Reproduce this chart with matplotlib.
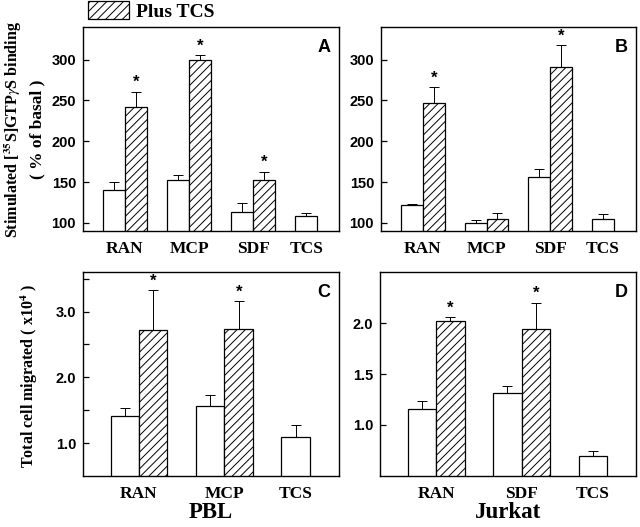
import matplotlib
matplotlib.use("Agg")
import matplotlib.pyplot as plt
import numpy as np
from matplotlib.patches import Patch

# ---- data ----
cats_A = ["RAN", "MCP", "SDF", "TCS"]
open_A = [139.7, 152.6, 113.1, 107.8]
open_err_A = [9.8, 6.6, 11.0, 4.1]
hatch_A = [242.0, 300.0, 151.9, None]
hatch_err_A = [18.9, 5.3, 11.0, None]
star_A = [True, True, True, False]

cats_B = ["RAN", "MCP", "SDF", "TCS"]
open_B = [122.4, 100.0, 156.4, 104.1]
open_err_B = [0.8, 4.0, 9.3, 7.3]
hatch_B = [246.8, 105.3, 291.4, None]
hatch_err_B = [19.1, 6.5, 26.8, None]
star_B = [True, False, True, False]

cats_C = ["RAN", "MCP", "TCS"]
open_C = [1.405, 1.567, 1.096]
open_err_C = [0.135, 0.163, 0.182]
hatch_C = [2.72, 2.74, None]
hatch_err_C = [0.61, 0.42, None]
star_C = [True, True, False]

cats_D = ["RAN", "SDF", "TCS"]
open_D = [1.156, 1.318, 0.700]
open_err_D = [0.081, 0.069, 0.044]
hatch_D = [2.016, 1.945, None]
hatch_err_D = [0.043, 0.255, None]
star_D = [True, True, False]

plt.rcParams['mathtext.fontset'] = 'stix'
plt.rcParams['hatch.linewidth'] = 0.7

SERIF = 'Liberation Serif'
SANS = 'Liberation Sans'

fig = plt.figure(figsize=(6.4, 5.27), dpi=100)

def panel(rect, cats, ov, oe, hv, he, stars, ylim, yticks, yticklabels, minor, letter, w):
    ax = fig.add_axes(rect)
    n = len(cats)
    x = np.arange(1, n + 1)
    lab_pos = []
    for i in range(n):
        xo = x[i] - w / 2
        ax.bar(xo, ov[i], width=w, bottom=0, facecolor='white', edgecolor='black', linewidth=0.9, zorder=2)
        ax.errorbar(xo, ov[i], yerr=[[0], [oe[i]]], fmt='none', ecolor='black',
                    elinewidth=0.7, capsize=3.5, capthick=0.7, zorder=1)
        if hv[i] is not None:
            xh = x[i] + w / 2
            ax.bar(xh, hv[i], width=w, facecolor='white', edgecolor='black', hatch='////',
                   linewidth=0.9, zorder=2)
            ax.errorbar(xh, hv[i], yerr=[[0], [he[i]]], fmt='none', ecolor='black',
                        elinewidth=0.7, capsize=3.5, capthick=0.7, zorder=1)
            if stars[i]:
                ax.annotate('*', (xh, hv[i] + he[i]), xytext=(0, 1), textcoords='offset points',
                            ha='center', va='bottom', fontsize=12, fontweight='bold', family=SANS)
            lab_pos.append(x[i])
        else:
            lab_pos.append(xo)
    ax.set_xlim(1 - 0.655, n + 0.34)
    ax.set_ylim(*ylim)
    ax.set_xticks(lab_pos)
    ax.set_xticklabels(cats, fontsize=12.5, fontweight='bold', family=SERIF)
    ax.tick_params(axis='x', length=0, pad=7)
    ax.set_yticks(yticks)
    ax.set_yticklabels(yticklabels, fontsize=10.5, fontweight='bold', family=SANS)
    if minor is not None:
        ax.set_yticks(minor, minor=True)
    ax.tick_params(axis='y', which='both', direction='in', length=4, width=0.9, pad=5)
    for s in ax.spines.values():
        s.set_linewidth(1.0)
    ax.text(0.967, 0.90, letter, transform=ax.transAxes, ha='right', va='center',
            fontsize=13, fontweight='bold', family=SANS)
    return ax

axA = panel([0.1297, 0.5617, 0.40, 0.387], cats_A, open_A, open_err_A, hatch_A, hatch_err_A, star_A,
            (90, 340), [100, 150, 200, 250, 300], ['100', '150', '200', '250', '300'], None, 'A', 0.344)
axB = panel([0.5953, 0.5617, 0.398, 0.387], cats_B, open_B, open_err_B, hatch_B, hatch_err_B, star_B,
            (90, 340), [100, 150, 200, 250, 300], ['100', '150', '200', '250', '300'], None, 'B', 0.344)
axC = panel([0.1297, 0.0968, 0.40, 0.387], cats_C, open_C, open_err_C, hatch_C, hatch_err_C, star_C,
            (0.5, 3.6), [1.0, 2.0, 3.0], ['1.0', '2.0', '3.0'], [1.5, 2.5, 3.5], 'C', 0.333)
axD = panel([0.594, 0.0968, 0.40, 0.387], cats_D, open_D, open_err_D, hatch_D, hatch_err_D, star_D,
            (0.5, 2.5), [1.0, 1.5, 2.0], ['1.0', '1.5', '2.0'], None, 'D', 0.333)

# y labels
fig.text(13 / 640, 1 - 129 / 527, r"Stimulated [$^{\mathbf{35}}$S]GTP$\gamma$S binding", rotation=90,
         ha='center', va='center', fontsize=11.5, fontweight='bold', family=SERIF)
fig.text(37 / 640, 1 - 129 / 527, "( % of basal )", rotation=90,
         ha='center', va='center', fontsize=12.5, fontweight='bold', family=SERIF)
fig.text(29 / 640, 1 - 376 / 527, r"Total cell migrated ( x10$^{\mathbf{4}}$ )", rotation=90,
         ha='center', va='center', fontsize=11.5, fontweight='bold', family=SERIF)

# group labels
fig.text((83 + 339) / 2 / 640, 1 - 512 / 527, "PBL", ha='center', va='center',
         fontsize=16.5, fontweight='bold', family=SERIF)
fig.text((380 + 636) / 2 / 640, 1 - 512 / 527, "Jurkat", ha='center', va='center',
         fontsize=16.5, fontweight='bold', family=SERIF)

# legend
leg = fig.legend(handles=[Patch(facecolor='white', edgecolor='black', hatch='////', linewidth=0.9)],
                 labels=['Plus TCS'], loc='center left', bbox_to_anchor=(88 / 640, 1 - 11 / 527),
                 frameon=False, prop={'family': SERIF, 'weight': 'bold', 'size': 14},
                 handlelength=2.1, handleheight=1.0, handletextpad=0.35, borderaxespad=0, borderpad=0)

fig.savefig('out.png', dpi=100)
